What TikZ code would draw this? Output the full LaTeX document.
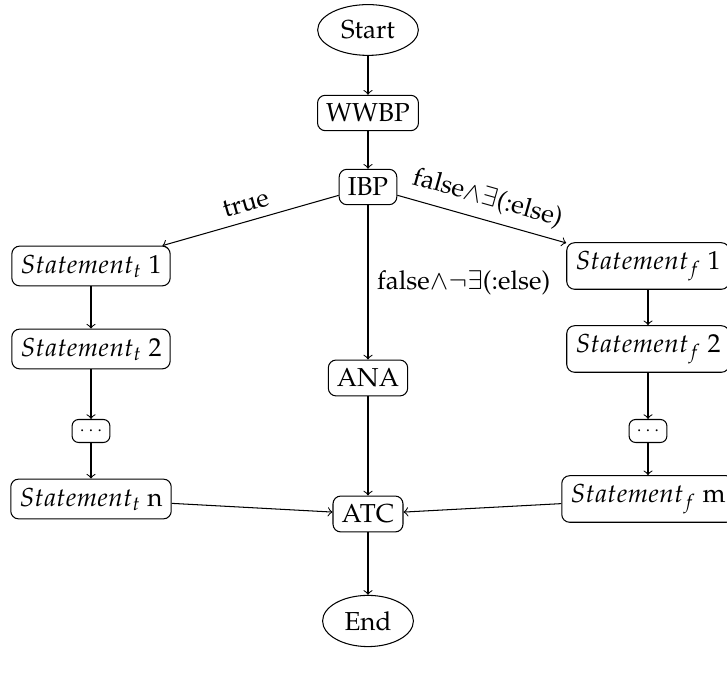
\documentclass[tikz,border=0pt]{standalone}
\usepackage[T1]{fontenc}
\usepackage{mathpazo}
\usetikzlibrary{shapes.geometric}
\begin{document}
\begin{tikzpicture}[x=0.3846pt,y=-0.3846pt,
  proc/.style={draw, rounded corners=3pt, inner sep=3.33pt},
  term/.style={draw, ellipse, inner sep=3.33pt},
  dotbox/.style={draw, rounded corners=2.5pt, inner sep=2.8pt, font=\scriptsize},
  flow/.style={->}]
\useasboundingbox (0,0) rectangle (727,675);

% main spine
\node[term] (start) at (368,30) {Start};
\node[proc] (wwbp) at (368,113) {WWBP};
\node[proc] (ibp) at (368,187) {IBP};
\node[proc] (ana) at (368,378) {ANA};
\node[proc] (atc) at (368,514) {ATC};
\node[term] (end) at (368,621) {End};

% true branch
\node[proc] (t1) at (91,266) {$Statement_t$ 1};
\node[proc] (t2) at (91,349) {$Statement_t$ 2};
\node[dotbox] (td) at (91,431) {$\cdots$};
\node[proc] (tn) at (91,499) {$Statement_t$ n};

% false branch
\node[proc] (f1) at (648,266) {$Statement_f$ 1};
\node[proc] (f2) at (648,349) {$Statement_f$ 2};
\node[dotbox] (fd) at (648,431) {$\cdots$};
\node[proc] (fm) at (648,499) {$Statement_f$ m};

% connectors
\draw[flow] (start) -- (wwbp);
\draw[flow] (wwbp) -- (ibp);
\draw[<-] (t1) -- node[above, sloped] {true} (ibp);
\draw[flow] (ibp) -- node[above, sloped] {false$\wedge\exists$(:else)} (f1);
\draw[flow] (ibp) -- node[right] {false$\wedge\neg\exists$(:else)} (ana);

\draw[flow] (t1) -- (t2);
\draw[flow] (t2) -- (td);
\draw[flow] (td) -- (tn);
\draw[flow] (tn) -- (atc);

\draw[flow] (f1) -- (f2);
\draw[flow] (f2) -- (fd);
\draw[flow] (fd) -- (fm);
\draw[flow] (fm) -- (atc);

\draw[flow] (ana) -- (atc);
\draw[flow] (atc) -- (end);
\end{tikzpicture}
\end{document}
